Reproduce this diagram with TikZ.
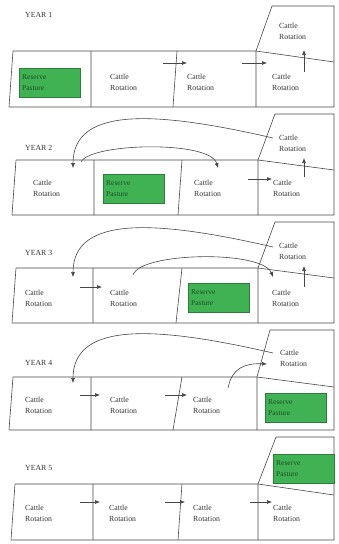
\documentclass[tikz,border=0pt]{standalone}
\usepackage{fontspec}
\setmainfont{Liberation Serif}
\usetikzlibrary{arrows.meta}
\definecolor{pasture}{RGB}{64,178,84}
\definecolor{ln}{RGB}{70,70,70}
\tikzset{
  frame/.style={draw=ln, line width=0.6pt},
  lbl/.style={font=\fontsize{7.8}{11}\selectfont, align=left, text=black!80, anchor=west, inner sep=0pt},
  yr/.style={font=\fontsize{7.8}{9}\selectfont, text=black!80, anchor=west, inner sep=0pt},
  res/.style={fill=pasture, draw=pasture!70!black, line width=0.4pt, font=\fontsize{7.5}{11}\selectfont,
    text=pasture!45!black, align=left, anchor=north west, inner xsep=3pt, inner ysep=0pt,
    minimum width=61pt, minimum height=29pt, text width=55pt}
  ,flow/.style={draw=ln, line width=0.6pt, -{Latex[length=5pt,width=4pt]}}
}
\begin{document}
\begin{tikzpicture}[x=1pt,y=-1pt]
\useasboundingbox (0,0) rectangle (339,544);

% ---------------- YEAR 1
\node[yr] (y1) at (25,15) {YEAR 1};
\draw[frame] (13,51) -- (256,51) -- (334,62);
\draw[frame] (9,107) -- (334,107) -- (334,6) -- (272,6) -- (256,51);
\draw[frame] (13,51) -- (9,107) (91,51) -- (91,107) (177,51) -- (173,107) (256,51) -- (256,107);
\node[res] (r1) at (19,68) {Reserve\\Pasture};
\node[lbl] (c12) at (110,82) {Cattle\\Rotation};
\node[lbl] (c13) at (187,82) {Cattle\\Rotation};
\node[lbl] (c14) at (272,82) {Cattle\\Rotation};
\node[lbl] (c1u) at (279,31) {Cattle\\Rotation};
\coordinate (a1s) at (163,63); \coordinate (a1e) at (187,63);
\coordinate (b1s) at (242,63); \coordinate (b1e) at (267,63);
\coordinate (v1s) at (304,72); \coordinate (v1e) at (304,50);
\draw[flow] (a1s) -- (a1e);
\draw[flow] (b1s) -- (b1e);
\draw[flow] (v1s) -- (v1e);

% ---------------- YEAR 2
\node[yr] (y2) at (25,148) {YEAR 2};
\draw[frame] (16,160) -- (258,160) -- (334,170);
\draw[frame] (12,215) -- (334,215) -- (334,114) -- (275,114) -- (258,160);
\draw[frame] (16,160) -- (12,215) (94,160) -- (94,215) (182,160) -- (178,215) (258,160) -- (258,215);
\node[res] (r2) at (103,174) {Reserve\\Pasture};
\node[lbl] (c21) at (33,188) {Cattle\\Rotation};
\node[lbl] (c23) at (194,188) {Cattle\\Rotation};
\node[lbl] (c24) at (273,188) {Cattle\\Rotation};
\node[lbl] (c2u) at (279,143) {Cattle\\Rotation};
\coordinate (a2s) at (248,179); \coordinate (a2e) at (272,179);
\coordinate (v2s) at (304,177); \coordinate (v2e) at (304,158);
\coordinate (g2s) at (273,138); \coordinate (g2e) at (73,168);
\coordinate (h2s) at (81,162); \coordinate (h2e) at (218,168);
\draw[flow] (a2s) -- (a2e);
\draw[flow] (v2s) -- (v2e);
\draw[flow] (g2s) .. controls (160,112) and (73,105) .. (g2e);
\draw[flow] (h2s) .. controls (90,143) and (210,140) .. (h2e);

% ---------------- YEAR 3
\node[yr] (y3) at (25,253) {YEAR 3};
\draw[frame] (16,268) -- (258,268) -- (334,278);
\draw[frame] (12,323) -- (334,323) -- (334,222) -- (275,222) -- (258,268);
\draw[frame] (16,268) -- (12,323) (93,268) -- (93,323) (182,268) -- (176,323) (258,268) -- (258,323);
\node[res] (r3) at (188,283) {Reserve\\Pasture};
\node[lbl] (c31) at (25,298) {Cattle\\Rotation};
\node[lbl] (c32) at (110,298) {Cattle\\Rotation};
\node[lbl] (c34) at (272,298) {Cattle\\Rotation};
\node[lbl] (c3u) at (279,251) {Cattle\\Rotation};
\coordinate (a3s) at (80,287); \coordinate (a3e) at (102,287);
\coordinate (v3s) at (304,287); \coordinate (v3e) at (304,266);
\coordinate (g3s) at (273,247); \coordinate (g3e) at (73,277);
\coordinate (h3s) at (133,275); \coordinate (h3e) at (273,277);
\draw[flow] (a3s) -- (a3e);
\draw[flow] (v3s) -- (v3e);
\draw[flow] (g3s) .. controls (160,221) and (73,214) .. (g3e);
\draw[flow] (h3s) .. controls (140,252) and (262,250) .. (h3e);

% ---------------- YEAR 4
\node[yr] (y4) at (25,363) {YEAR 4};
\draw[frame] (13,377) -- (257,377) -- (334,387);
\draw[frame] (9,430) -- (334,430) -- (334,330) -- (270,330) -- (257,377);
\draw[frame] (13,377) -- (9,430) (91,377) -- (91,430) (182,377) -- (173,430) (257,377) -- (257,430);
\node[res] (r4) at (265,393) {Reserve\\Pasture};
\node[lbl] (c41) at (25,405) {Cattle\\Rotation};
\node[lbl] (c42) at (110,405) {Cattle\\Rotation};
\node[lbl] (c43) at (193,405) {Cattle\\Rotation};
\node[lbl] (c4u) at (280,358) {Cattle\\Rotation};
\coordinate (a4s) at (80,395); \coordinate (a4e) at (100,395);
\coordinate (b4s) at (165,395); \coordinate (b4e) at (187,395);
\coordinate (g4s) at (273,353); \coordinate (g4e) at (73,383);
\coordinate (h4s) at (228,388); \coordinate (h4e) at (267,364);
\draw[flow] (a4s) -- (a4e);
\draw[flow] (b4s) -- (b4e);
\draw[flow] (g4s) .. controls (160,327) and (73,320) .. (g4e);
\draw[flow] (h4s) .. controls (232,368) and (245,363) .. (h4e);

% ---------------- YEAR 5
\node[yr] (y5) at (25,468) {YEAR 5};
\draw[frame] (15,484) -- (258,484) -- (334,495);
\draw[frame] (11,540) -- (334,540) -- (334,437) -- (276,437) -- (258,484);
\draw[frame] (15,484) -- (11,540) (93,484) -- (93,540) (182,484) -- (178,540) (258,484) -- (258,540);
\node[res] (r5) at (273,454) {Reserve\\Pasture};
\node[lbl] (c51) at (25,513) {Cattle\\Rotation};
\node[lbl] (c52) at (109,513) {Cattle\\Rotation};
\node[lbl] (c53) at (193,513) {Cattle\\Rotation};
\node[lbl] (c54) at (273,513) {Cattle\\Rotation};
\coordinate (a5s) at (80,502); \coordinate (a5e) at (100,502);
\coordinate (b5s) at (165,502); \coordinate (b5e) at (185,502);
\coordinate (d5s) at (250,502); \coordinate (d5e) at (272,502);
\draw[flow] (a5s) -- (a5e);
\draw[flow] (b5s) -- (b5e);
\draw[flow] (d5s) -- (d5e);
\end{tikzpicture}
\end{document}
